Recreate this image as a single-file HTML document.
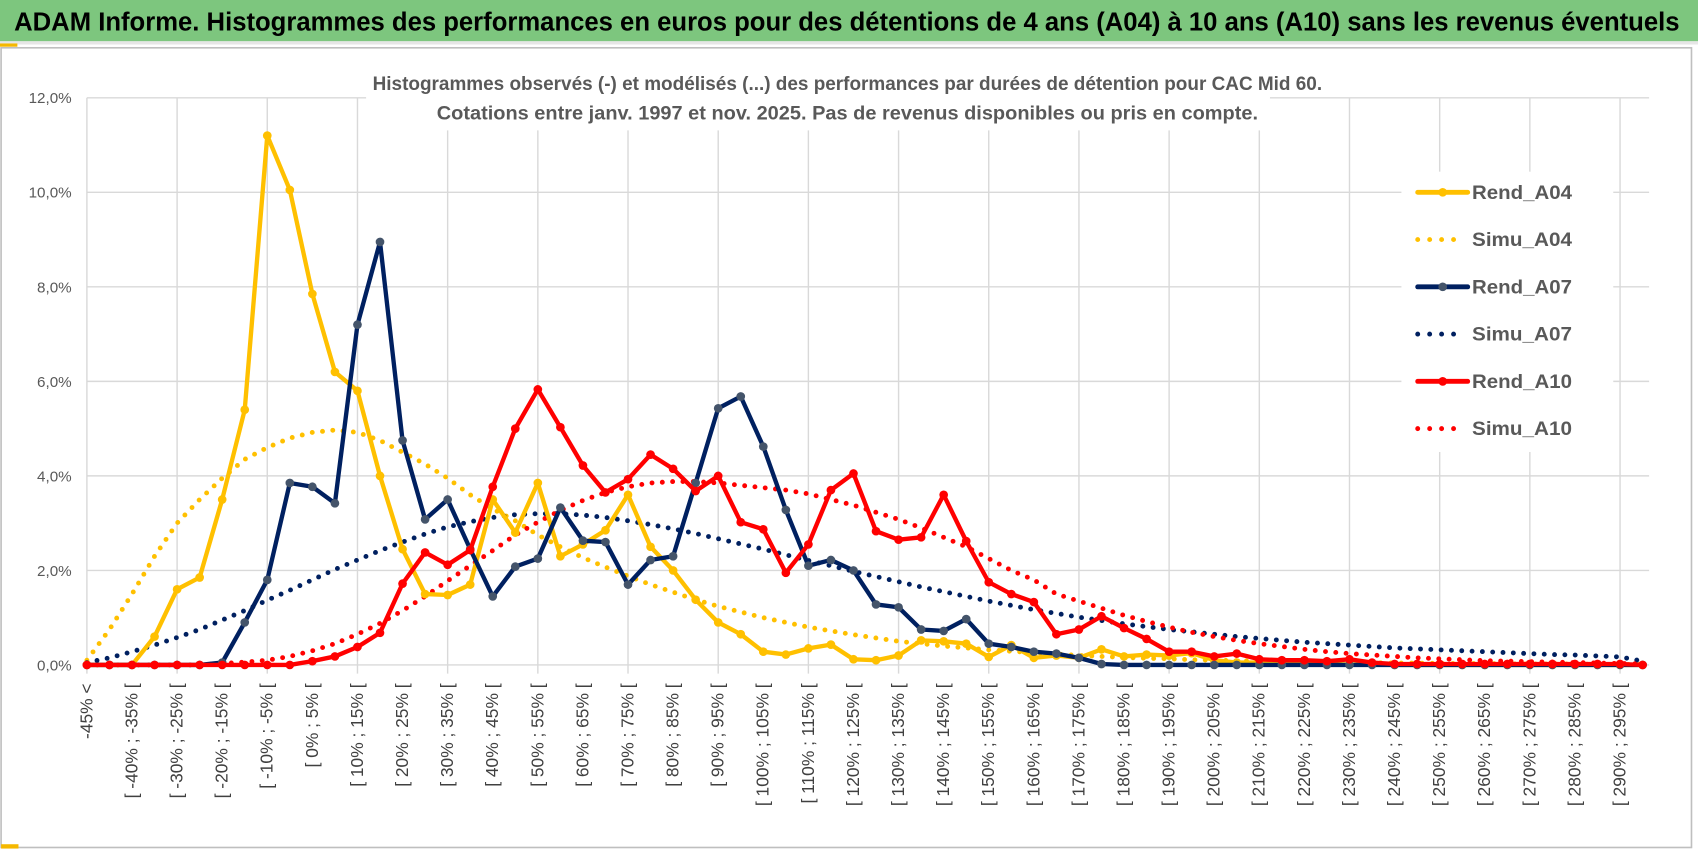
<!DOCTYPE html>
<html><head><meta charset="utf-8"><style>
html,body{margin:0;padding:0;background:#fff;}
svg{display:block;font-family:"Liberation Sans",sans-serif;}
</style></head><body>
<svg id="chart" width="1698" height="854" viewBox="0 0 1563 786" preserveAspectRatio="none" xmlns="http://www.w3.org/2000/svg">
<rect x="0" y="0" width="1563" height="786" fill="#fff"/>
<rect x="0" y="0" width="1563" height="38" fill="#7dc67e"/>
<rect x="0" y="38" width="1563" height="3" fill="#e6e6e6"/>
<rect x="0" y="40" width="16" height="3" fill="#f5b800"/>
<text x="13" y="28" font-size="24" font-weight="bold" fill="#000" textLength="1533" lengthAdjust="spacingAndGlyphs">ADAM Informe. Histogrammes des performances en euros pour des détentions de 4 ans (A04) à 10 ans (A10) sans les revenus éventuels</text>
<rect x="1" y="44" width="1556" height="736" fill="none" stroke="#bfbfbf" stroke-width="1.5"/>
<rect x="1" y="777" width="16" height="4" fill="#f5b800"/>
<g id="grid"></g>
<rect x="337" y="58" width="832" height="62" fill="#fff"/>
<text x="780" y="83" font-size="18" font-weight="bold" fill="#595959" text-anchor="middle" textLength="874" lengthAdjust="spacingAndGlyphs">Histogrammes observés (-) et modélisés (...) des performances par durées de détention pour CAC Mid 60.</text>
<text x="780" y="110" font-size="18" font-weight="bold" fill="#595959" text-anchor="middle" textLength="756" lengthAdjust="spacingAndGlyphs">Cotations entre janv. 1997 et nov. 2025. Pas de revenus disponibles ou pris en compte.</text>
<g id="yaxis"></g>
<g id="xaxis"></g>
<g id="series"></g>
<rect x="1290" y="158" width="195" height="258" fill="#fff"/>
<g id="legend"></g>
</svg>
<script>
const categories = [];
categories.push("-45% <");
for (let a = -45; a <= 295; a += 5) categories.push("[ " + a + "% ; " + (a + 5) + "% [");
const yTicks = [0, 2, 4, 6, 8, 10, 12];
const yTickLabels = ["0,0%", "2,0%", "4,0%", "6,0%", "8,0%", "10,0%", "12,0%"];

const rendA04 = [0,0,0,0.6,1.6,1.85,3.5,5.4,11.2,10.05,7.85,6.2,5.8,4.0,2.45,1.5,1.48,1.7,3.5,2.8,3.85,2.3,2.55,2.85,3.6,2.5,2.0,1.38,0.9,0.65,0.28,0.22,0.35,0.43,0.12,0.1,0.2,0.52,0.5,0.45,0.17,0.42,0.15,0.2,0.15,0.33,0.18,0.22,0.2,0.25,0.1,0.05,0.05,0.03,0.02,0.02,0.01,0.01,0,0,0,0,0,0,0,0,0,0,0,0];
const simuA04 = [0.1,0.75,1.5,2.3,3.0,3.5,3.95,4.35,4.6,4.8,4.92,4.97,4.92,4.75,4.5,4.25,3.95,3.6,3.3,3.05,2.75,2.5,2.27,2.07,1.88,1.7,1.54,1.38,1.24,1.12,1.0,0.9,0.8,0.72,0.64,0.57,0.5,0.45,0.4,0.36,0.32,0.29,0.26,0.23,0.2,0.18,0.16,0.14,0.13,0.11,0.1,0.09,0.08,0.07,0.06,0.06,0.05,0.05,0.04,0.04,0.03,0.03,0.03,0.02,0.02,0.02,0.02,0.01,0.01,0.01];
const rendA07 = [0,0,0,0,0,0,0.05,0.9,1.8,3.85,3.77,3.42,7.2,8.95,4.75,3.08,3.5,2.45,1.45,2.08,2.25,3.33,2.63,2.6,1.7,2.22,2.3,3.85,5.43,5.68,4.62,3.28,2.1,2.22,2.0,1.28,1.22,0.75,0.72,0.97,0.45,0.38,0.28,0.24,0.15,0.02,0,0,0,0,0,0,0,0,0,0,0,0,0,0,0,0,0,0,0,0,0,0,0,0];
const simuA07 = [0.05,0.15,0.28,0.42,0.58,0.75,0.95,1.15,1.37,1.58,1.8,2.02,2.22,2.42,2.6,2.77,2.92,3.03,3.12,3.18,3.2,3.2,3.17,3.12,3.05,2.97,2.88,2.78,2.67,2.56,2.45,2.33,2.21,2.1,1.98,1.87,1.76,1.65,1.55,1.45,1.35,1.26,1.17,1.09,1.01,0.94,0.87,0.81,0.75,0.7,0.65,0.6,0.56,0.52,0.48,0.45,0.42,0.39,0.36,0.34,0.32,0.3,0.28,0.26,0.24,0.22,0.21,0.19,0.17,0.08];
const rendA10 = [0,0,0,0,0,0,0,0,0,0,0.08,0.18,0.38,0.68,1.72,2.38,2.12,2.43,3.77,5.0,5.83,5.03,4.22,3.65,3.93,4.45,4.15,3.68,4.0,3.02,2.87,1.95,2.55,3.7,4.05,2.83,2.65,2.7,3.6,2.62,1.75,1.5,1.33,0.65,0.75,1.03,0.78,0.55,0.28,0.28,0.18,0.24,0.12,0.1,0.1,0.08,0.12,0.05,0.02,0.02,0.02,0.02,0.02,0.02,0.02,0.02,0.02,0.02,0.02,0];
const simuA10 = [0,0,0,0,0,0,0.03,0.06,0.1,0.18,0.3,0.45,0.65,0.88,1.15,1.45,1.78,2.1,2.42,2.75,3.02,3.27,3.48,3.65,3.77,3.85,3.88,3.88,3.85,3.8,3.75,3.7,3.62,3.5,3.38,3.23,3.08,2.9,2.7,2.5,2.25,2.0,1.8,1.5,1.35,1.2,1.05,0.92,0.8,0.69,0.6,0.52,0.45,0.39,0.33,0.28,0.24,0.21,0.18,0.15,0.13,0.11,0.09,0.08,0.07,0.06,0.05,0.04,0.03,0.02];

const NS = "http://www.w3.org/2000/svg";
const X0 = 80, X1 = 1512, Y0 = 612, Y1 = 90;
function xPos(i){ return X0 + (X1 - X0) * i / (categories.length - 1); }
function yPos(v){ return Y0 - (Y0 - Y1) * v / 12; }
function mk(tag, attrs, parent){ const e = document.createElementNS(NS, tag); for (const k in attrs) e.setAttribute(k, attrs[k]); parent.appendChild(e); return e; }

const grid = document.getElementById('grid');
yTicks.forEach(t => {
  const l = mk('line', {x1: X0, x2: X1 + 6, y1: yPos(t), y2: yPos(t), stroke: '#d9d9d9', 'stroke-width': 1.3}, grid);
  
  
});
for (let i = 0; i < categories.length; i += 4) {
  const l = mk('line', {x1: xPos(i), x2: xPos(i), y1: Y1, y2: Y0 + 8, stroke: '#d9d9d9', 'stroke-width': 1.3}, grid);
  
  
}
const yaxis = document.getElementById('yaxis');
yTicks.forEach((t, k) => {
  const tx = mk('text', {x: 66, y: yPos(t) + 5, 'font-size': 14, fill: '#595959', 'text-anchor': 'end'}, yaxis);
  tx.textContent = yTickLabels[k];
  
  
});
const xaxis = document.getElementById('xaxis');
for (let i = 0; i < categories.length; i += 2) {
  const x = xPos(i) + 5;
  const tx = mk('text', {x: x, y: 629, 'font-size': 16, fill: '#404040', 'text-anchor': 'end', transform: 'rotate(-90 ' + x + ' 629)'}, xaxis);
  tx.textContent = categories[i];
  
  
}
const series = document.getElementById('series');
function dotted(vals, color, name){
  const pts = vals.map((v, i) => xPos(i) + ',' + yPos(v)).join(' ');
  const p = mk('polyline', {points: pts, fill: 'none', stroke: color, 'stroke-width': 4.5, 'stroke-linecap': 'round', 'stroke-dasharray': '0 9.5'}, series);
  
  
}
function solid(vals, color, mcolor, name){
  const pts = vals.map((v, i) => xPos(i) + ',' + yPos(v)).join(' ');
  const g = mk('g', {}, series);
  
  
  mk('polyline', {points: pts, fill: 'none', stroke: color, 'stroke-width': 4, 'stroke-linejoin': 'round'}, g);
  vals.forEach((v, i) => {
    const c = mk('circle', {cx: xPos(i), cy: yPos(v), r: 4, fill: mcolor}, g);
    
    
  });
}
dotted(simuA04, '#ffc000', 'simu-a04-line');
dotted(simuA07, '#002060', 'simu-a07-line');
dotted(simuA10, '#ff0000', 'simu-a10-line');
solid(rendA04, '#ffc000', '#ffc000', 'rend-a04-line');
solid(rendA07, '#002060', '#44546a', 'rend-a07-line');
solid(rendA10, '#ff0000', '#ff0000', 'rend-a10-line');

const legendNames = ["Rend_A04", "Simu_A04", "Rend_A07", "Simu_A07", "Rend_A10", "Simu_A10"];
const legendColors = ["#ffc000", "#ffc000", "#002060", "#002060", "#ff0000", "#ff0000"];
const legend = document.getElementById('legend');
legendNames.forEach((n, k) => {
  const y = 177 + k * 43.5;
  const g = mk('g', {}, legend);
  
  
  if (k % 2 === 0) {
    mk('line', {x1: 1305, x2: 1351, y1: y, y2: y, stroke: legendColors[k], 'stroke-width': 4.5, 'stroke-linecap': 'round'}, g);
    mk('circle', {cx: 1328, cy: y, r: 4, fill: k === 2 ? '#44546a' : legendColors[k]}, g);
  } else {
    mk('line', {x1: 1305, x2: 1349, y1: y, y2: y, stroke: legendColors[k], 'stroke-width': 4.5, 'stroke-linecap': 'round', 'stroke-dasharray': '0 11'}, g);
  }
  const t = mk('text', {x: 1355, y: y + 6, 'font-size': 18, 'font-weight': 'bold', fill: '#595959', textLength: 92, lengthAdjust: 'spacingAndGlyphs'}, g);
  t.textContent = n;
});
</script>
</body></html>
